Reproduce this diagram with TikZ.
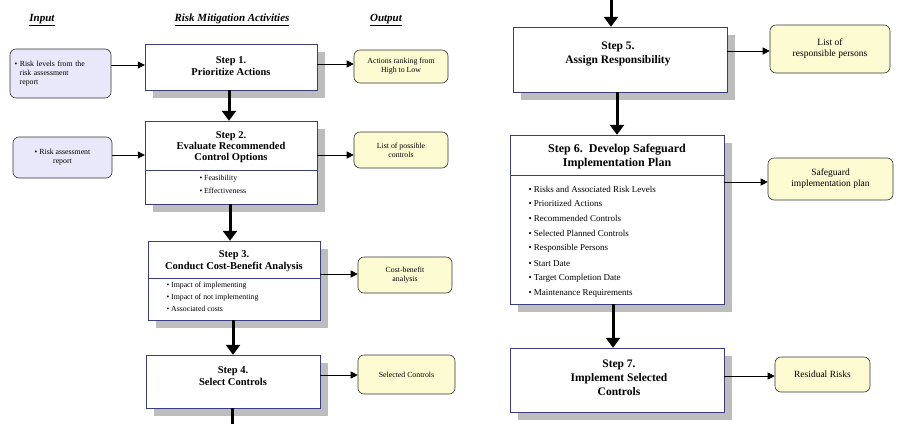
\documentclass[tikz,border=0pt]{standalone}
\usepackage{fontspec}
\setmainfont{Liberation Serif}
\usetikzlibrary{arrows.meta}
\definecolor{bord}{HTML}{3C3C80}
\definecolor{shad}{HTML}{BDBDBD}
\definecolor{infill}{HTML}{E8E8FA}
\definecolor{outfill}{HTML}{FDFBD2}
\tikzset{
  stepb/.style={draw=bord,fill=white,line width=0.8pt},
  inb/.style={draw=black!80,fill=infill,rounded corners=6pt,line width=0.6pt,align=center,font=\fontsize{7.8}{9}\selectfont},
  outb/.style={draw=black!80,fill=outfill,rounded corners=6pt,line width=0.6pt,align=center,font=\fontsize{7.8}{9}\selectfont},
  hd/.style={font=\bfseries\itshape\fontsize{11}{13}\selectfont},
  ttl/.style={font=\bfseries\fontsize{10.5}{12}\selectfont,align=center},
  bl/.style={font=\fontsize{7.8}{9}\selectfont,anchor=west},
  arr/.style={-{Triangle[length=7pt,width=7pt]},line width=0.6pt},
  big/.style={-{Triangle[length=10pt,width=14pt]},line width=3pt},
  frame/.style={inner sep=0pt,rectangle},
}
\begin{document}
\begin{tikzpicture}[x=1pt,y=-1pt]
\useasboundingbox (0,0) rectangle (900,424);
% headers
\node[hd] (h1) at (42,20) {\underline{Input}};
\node[hd] (h2) at (232,20) {\underline{Risk Mitigation Activities}};
\node[hd] (h3) at (386,20) {\underline{Output}};
% shadows
\foreach \a/\b/\c/\d in {145/44/317/90, 145/121/317/204, 148/241/320/320, 146/355/320/408, 513/27/727/92, 510/135/724/304, 510/348/724/412}
  \fill[shad] (\a+8,\b+8) rectangle (\c+8,\d+8);
% step boxes
\draw[stepb] (145,44) rectangle (317,90);
\node[frame,minimum width=172pt,minimum height=46pt] (s1) at (231,67) {};
\node[ttl] (t1) at (231,66) {Step 1.\\Prioritize Actions};

\draw[stepb] (145,121) rectangle (317,204);
\node[frame,minimum width=172pt,minimum height=83pt] (s2) at (231,162.5) {};
\draw[bord,line width=0.6pt] (145,170) -- (317,170);
\node[ttl,font=\bfseries\fontsize{10.5}{11}\selectfont] (t2) at (231,147) {Step 2.\\Evaluate Recommended\\Control Options};
\node[bl] (b21) at (196,179) {• Feasibility};
\node[bl] (b22) at (196,190.5) {• Effectiveness};

\draw[stepb] (148,241) rectangle (320,320);
\node[frame,minimum width=172pt,minimum height=79pt] (s3) at (234,280.5) {};
\draw[bord,line width=0.6pt] (148,278) -- (320,278);
\node[ttl] (t3) at (234,261) {Step 3.\\Conduct Cost-Benefit Analysis};
\node[bl] (b31) at (163,286) {• Impact of implementing};
\node[bl] (b32) at (163,297.5) {• Impact of not implementing};
\node[bl] (b33) at (163,309) {• Associated costs};

\draw[stepb] (146,355) rectangle (320,408);
\node[frame,minimum width=174pt,minimum height=53pt] (s4) at (233,381.5) {};
\node[ttl] (t4) at (233,376) {Step 4.\\Select Controls};

\draw[stepb] (513,27) rectangle (727,92);
\node[frame,minimum width=214pt,minimum height=65pt] (s5) at (620,59.5) {};
\node[ttl,font=\bfseries\fontsize{11.5}{13.5}\selectfont] (t5) at (618,54) {Step 5.\\Assign Responsibility};

\draw[stepb] (510,135) rectangle (724,304);
\node[frame,minimum width=214pt,minimum height=169pt] (s6) at (617,219.5) {};
\draw[bord,line width=0.6pt] (510,175) -- (724,175);
\node[ttl,font=\bfseries\fontsize{12}{14}\selectfont] (t6) at (617,157) {Step 6.\ \ Develop Safeguard\\Implementation Plan};
\foreach \t [count=\i] in {Risks and Associated Risk Levels, Prioritized Actions, Recommended Controls, Selected Planned Controls, Responsible Persons, Start Date, Target Completion Date, Maintenance Requirements}
  \node[bl,font=\fontsize{9}{10}\selectfont] (b6\i) at (525,{189+(\i-1)*14.9}) {• \t};

\draw[stepb] (510,348) rectangle (724,412);
\node[frame,minimum width=214pt,minimum height=64pt] (s7) at (617,380) {};
\node[ttl,font=\bfseries\fontsize{11.5}{14}\selectfont] (t7) at (619,378) {Step 7.\\Implement Selected\\Controls};

% inputs
\node[inb,minimum width=101pt,minimum height=49pt,text width=92pt,align=left] (i1) at (60.5,73.5) {• Risk levels from the\\\ \ risk assessment\\\ \ report};
\node[inb,minimum width=99pt,minimum height=41pt] (i2) at (62.5,157.5) {• Risk assessment\\report};
% outputs
\node[outb,minimum width=94pt,minimum height=33pt] (o1) at (401,66.5) {Actions ranking from\\High to Low};
\node[outb,minimum width=94pt,minimum height=36pt] (o2) at (401,150) {List of possible\\controls};
\node[outb,minimum width=94pt,minimum height=36pt] (o3) at (405,275) {Cost-benefit\\analysis};
\node[outb,minimum width=97pt,minimum height=39pt] (o4) at (406.5,374.5) {Selected Controls};
\node[outb,minimum width=120pt,minimum height=48pt,font=\fontsize{9.5}{11}\selectfont] (o5) at (830,49) {List of\\responsible persons};
\node[outb,minimum width=125pt,minimum height=42pt,font=\fontsize{9.5}{11}\selectfont] (o6) at (830.5,179) {Safeguard\\implementation plan};
\node[outb,minimum width=95pt,minimum height=35pt,font=\fontsize{9.5}{11}\selectfont] (o7) at (822.5,374.5) {Residual Risks};

% thin arrows
\draw[arr] (i1.east |- 0,65) -- (s1.west |- 0,65);
\draw[arr] (i2.east |- 0,155) -- (s2.west |- 0,155);
\draw[arr] (s1.east |- 0,64) -- (o1.west |- 0,64);
\draw[arr] (s2.east |- 0,155) -- (o2.west |- 0,155);
\draw[arr] (s3.east |- 0,274) -- (o3.west |- 0,274);
\draw[arr] (s4.east |- 0,375) -- (o4.west |- 0,375);
\draw[arr] (s5.east |- 0,51) -- (o5.west |- 0,51);
\draw[arr] (s6.east |- 0,182) -- (o6.west |- 0,182);
\draw[arr] (s7.east |- 0,376) -- (o7.west |- 0,376);

% thick arrows
\coordinate (topin) at (611,0);
\coordinate (botout) at (232,424);
\draw[big] (s1.south -| 229,0) -- (s2.north -| 229,0);
\draw[big] (s2.south -| 230,0) -- (s3.north -| 230,0);
\draw[big] (s3.south -| 233,0) -- (s4.north -| 233,0);
\draw[line width=3pt] (s4.south -| 232,0) -- (botout);
\draw[big] (topin) -- (s5.north -| 611,0);
\draw[big] (s5.south -| 617,0) -- (s6.north -| 617,0);
\draw[big] (s6.south -| 613,0) -- (s7.north -| 613,0);
\end{tikzpicture}
\end{document}
